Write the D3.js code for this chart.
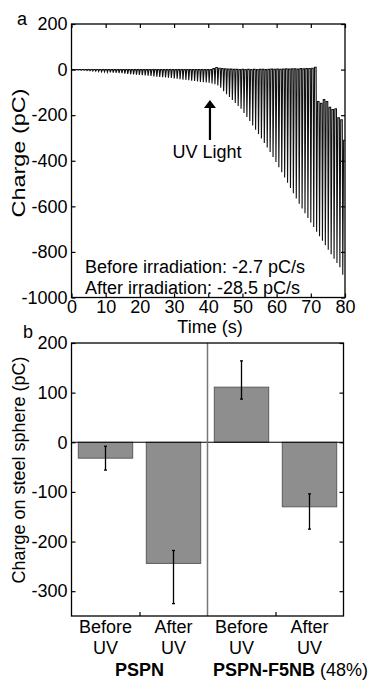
<!DOCTYPE html>
<html>
<head>
<meta charset="utf-8">
<script src="https://cdn.jsdelivr.net/npm/d3@7"></script>
<style>
    body { margin: 0; background: #ffffff; }
    svg { display: block; font-family: "Liberation Sans", Arial, sans-serif; }
    .tick line { stroke: #000000; }
</style>
</head>
<body>
<div class="chart"></div>
<script>
// 面板 a：每个脉冲周期的时间 (s)、顶部电荷和谷底电荷 (pC)
const cycleTime = [
    1.0, 1.85, 2.7, 3.55, 4.4, 5.25, 6.1, 6.95, 7.8, 8.65,
    9.5, 10.35, 11.2, 12.05, 12.9, 13.75, 14.6, 15.45, 16.3, 17.15,
    18.0, 18.85, 19.7, 20.55, 21.4, 22.25, 23.1, 23.95, 24.8, 25.65,
    26.5, 27.35, 28.2, 29.05, 29.9, 30.75, 31.6, 32.45, 33.3, 34.15,
    35.0, 35.85, 36.7, 37.55, 38.4, 39.25, 40.1, 40.95, 41.8, 42.65,
    43.5, 44.35, 45.2, 46.05, 46.9, 47.75, 48.6, 49.45, 50.3, 51.15,
    52.0, 52.85, 53.7, 54.55, 55.4, 56.25, 57.1, 57.95, 58.8, 59.65,
    60.5, 61.35, 62.2, 63.05, 63.9, 64.75, 65.6, 66.45, 67.3, 68.15,
    69.0, 69.85, 70.7, 71.55, 72.4, 73.25, 74.1, 74.95, 75.8, 76.65,
    77.5, 78.35, 79.2, 80.0
];
const cycleTop = [
    0, 0, 0, 0, 0, 0, 0, 0, 0, 0,
    0, 0, 0, 0, 0, 0, 0, 0, 0, 0,
    0, 0, 0, 0, 0, 0, 0, 0, 0, 0,
    0, 0, 0, 0, 0, 0, 0, 0, 0, 0,
    0, 0, 0, 0, 0, 0, 0, 0, 4, 9,
    6, 4, 3, 2, 2, 1, 1, 0, 1, 0,
    1, 0, 1, 0, 1, 1, 0, 1, 2, 1,
    2, 1, 2, 3, 2, 3, 3, 2, 4, 3,
    4, 5, 6, 10, -140, -148, -132, -140, -165, -175,
    -172, -212, -220, -310
];
const cycleTrough = [
    -1, -2, -3, -3, -4, -5, -6, -7, -8, -9,
    -10, -11, -12, -13, -14, -15, -16, -18, -19, -20,
    -21, -22, -23, -25, -26, -27, -28, -30, -31, -32,
    -33, -35, -36, -37, -39, -40, -42, -44, -45, -47,
    -49, -50, -52, -54, -55, -57, -58, -61, -64, -70,
    -80, -95, -108, -120, -133, -147, -160, -172, -190, -208,
    -226, -245, -264, -283, -302, -322, -342, -362, -384, -405,
    -428, -450, -474, -497, -520, -543, -566, -589, -610, -630,
    -651, -671, -691, -711, -731, -751, -771, -790, -810, -830,
    -849, -867, -900, null
];
const timeTicks = [0, 10, 20, 30, 40, 50, 60, 70, 80];
const chargeTicks = [-1000, -800, -600, -400, -200, 0, 200];
const uvOnTime = 40.5;

// 面板 b：柱状图
const barLabels = ['Before', 'After', 'Before', 'After'];
const barValues = [-32, -244, 111, -130];
const errLow = [-56, -325, 87, -175];
const errHigh = [-8, -218, 164, -104];
const sphereTicks = [-300, -200, -100, 0, 100, 200];

const width = 371, height = 680;
const fontSize = 18;
const plain = d => String(d);   // 普通连字符负号

const svg = d3.select('.chart')
    .append('svg')
    .attr('width', width)
    .attr('height', height);

// 四边向内刻度 + 边框
function drawFrame(g, x, y, xTicks, yTicks, showXLabels, showTop) {
    const [x0, x1] = x.range();
    const [y0, y1] = y.range();
    g.append('g')
        .attr('transform', `translate(0,${y0})`)
        .call(d3.axisBottom(x).tickValues(xTicks).tickSize(-4).tickPadding(3)
            .tickFormat(showXLabels ? plain : () => ''))
        .call(a => a.select('.domain').remove());
    if (showTop) {
        g.append('g')
            .attr('transform', `translate(0,${y1})`)
            .call(d3.axisTop(x).tickValues(xTicks).tickSize(-4).tickFormat(() => ''))
            .call(a => a.select('.domain').remove());
    }
    g.append('g')
        .attr('transform', `translate(${x0},0)`)
        .call(d3.axisLeft(y).tickValues(yTicks).tickSize(-4).tickPadding(4).tickFormat(plain))
        .call(a => a.select('.domain').remove());
    g.append('g')
        .attr('transform', `translate(${x1},0)`)
        .call(d3.axisRight(y).tickValues(yTicks).tickSize(-4).tickFormat(() => ''))
        .call(a => a.select('.domain').remove());
    g.selectAll('.tick text')
        .attr('fill', '#000')
        .style('font-size', `${fontSize}px`)
        .style('font-family', '"Liberation Sans", Arial, sans-serif');
    g.selectAll('.tick line').attr('stroke-width', 1.2);
    g.append('rect')
        .attr('x', x0).attr('y', y1)
        .attr('width', x1 - x0).attr('height', y0 - y1)
        .attr('fill', 'none')
        .attr('stroke', '#000')
        .attr('stroke-width', 1.3);
}

// ---------- 面板 a ----------
const ga = svg.append('g');
const xA = d3.scaleLinear().domain([0, 80]).range([71.5, 345]);
const yA = d3.scaleLinear().domain([-1000, 200]).range([297.5, 24]);

ga.append('clipPath').attr('id', 'clipA')
    .append('rect')
    .attr('x', xA(0)).attr('y', yA(200))
    .attr('width', xA(80) - xA(0)).attr('height', yA(-1000) - yA(200));

// 锯齿曲线：顶部 -> 谷底 -> 回到下一周期的顶部
const pts = [[0, 0]];
cycleTime.forEach((t, i) => {
    pts.push([t, cycleTop[i]]);
    if (cycleTrough[i] !== null) {
        pts.push([t + 0.15, cycleTrough[i]]);
        pts.push([t + 0.4, cycleTop[i + 1]]);
    }
});
const line = d3.line().x(d => xA(d[0])).y(d => yA(d[1]));
ga.append('path')
    .attr('clip-path', 'url(#clipA)')
    .attr('d', line(pts))
    .attr('fill', 'none')
    .attr('stroke', '#111')
    .attr('stroke-width', 1.1)
    .attr('stroke-linejoin', 'miter');

drawFrame(ga, xA, yA, timeTicks, chargeTicks, true, true);

// UV 箭头
const ax = xA(uvOnTime);
ga.append('line')
    .attr('x1', ax).attr('x2', ax)
    .attr('y1', 105).attr('y2', 140)
    .attr('stroke', '#000').attr('stroke-width', 2.2);
ga.append('path')
    .attr('d', `M${ax},100 L${ax - 6},108 L${ax + 6},108 Z`)
    .attr('fill', '#000');
ga.append('text')
    .attr('x', 207).attr('y', 158)
    .attr('text-anchor', 'middle')
    .style('font-size', `${fontSize}px`)
    .text('UV Light');

ga.append('text').attr('x', 85).attr('y', 273)
    .style('font-size', `${fontSize}px`)
    .text('Before irradiation: -2.7 pC/s');
ga.append('text').attr('x', 85).attr('y', 294)
    .style('font-size', `${fontSize}px`)
    .text('After irradiation: -28.5 pC/s');

ga.append('text').attr('x', 210).attr('y', 333)
    .attr('text-anchor', 'middle')
    .style('font-size', `${fontSize}px`)
    .text('Time (s)');
ga.append('text')
    .attr('transform', 'translate(25,153) rotate(-90)')
    .attr('text-anchor', 'middle')
    .attr('textLength', 129)
    .attr('lengthAdjust', 'spacingAndGlyphs')
    .style('font-size', `${fontSize}px`)
    .text('Charge (pC)');
ga.append('text').attr('x', 17).attr('y', 25)
    .style('font-size', `${fontSize}px`)
    .text('a');

// ---------- 面板 b ----------
const gb = svg.append('g');
const xB = d3.scaleBand().domain(d3.range(barValues.length))
    .range([71.5, 343.5]).paddingInner(0.2).paddingOuter(0.1);
const yB = d3.scaleLinear().domain([-350, 200]).range([616, 343]);

gb.selectAll('rect.bar')
    .data(barValues)
    .join('rect')
    .attr('class', 'bar')
    .attr('x', (d, i) => xB(i))
    .attr('width', xB.bandwidth())
    .attr('y', d => yB(Math.max(0, d)))
    .attr('height', d => Math.abs(yB(d) - yB(0)))
    .attr('fill', '#8e8e8e')
    .attr('stroke', '#5a5a5a')
    .attr('stroke-width', 1);

// 零线
gb.append('line')
    .attr('x1', xB.range()[0]).attr('x2', xB.range()[1])
    .attr('y1', yB(0)).attr('y2', yB(0))
    .attr('stroke', '#000').attr('stroke-width', 1.2);

// 组分隔线
const midX = (xB(1) + xB.bandwidth() + xB(2)) / 2;
gb.append('line')
    .attr('x1', midX).attr('x2', midX)
    .attr('y1', yB(200)).attr('y2', yB(-350))
    .attr('stroke', '#777').attr('stroke-width', 1.5);

// 误差棒
const eb = gb.selectAll('g.err')
    .data(barValues.map((v, i) => i))
    .join('g').attr('class', 'err');
eb.append('line')
    .attr('x1', i => xB(i) + xB.bandwidth() / 2)
    .attr('x2', i => xB(i) + xB.bandwidth() / 2)
    .attr('y1', i => yB(errLow[i])).attr('y2', i => yB(errHigh[i]))
    .attr('stroke', '#000').attr('stroke-width', 1.3);
[errLow, errHigh].forEach(arr => {
    eb.append('line')
        .attr('x1', i => xB(i) + xB.bandwidth() / 2 - 1.5)
        .attr('x2', i => xB(i) + xB.bandwidth() / 2 + 1.5)
        .attr('y1', i => yB(arr[i])).attr('y2', i => yB(arr[i]))
        .attr('stroke', '#000').attr('stroke-width', 1.3);
});

// 边框与刻度（x 方向刻度在组内柱子之间）
const groupTicks = [0, 2].map(i => (xB(i) + xB.bandwidth() + xB(i + 1)) / 2);
const xB2 = d3.scaleLinear().domain(xB.range()).range(xB.range());
drawFrame(gb, xB2, yB, groupTicks, sphereTicks, false, false);

// 类别标签
barLabels.forEach((lab, i) => {
    const cx = xB(i) + xB.bandwidth() / 2;
    gb.append('text').attr('x', cx).attr('y', 633)
        .attr('text-anchor', 'middle')
        .style('font-size', `${fontSize}px`)
        .text(lab);
    gb.append('text').attr('x', cx).attr('y', 654)
        .attr('text-anchor', 'middle')
        .style('font-size', `${fontSize}px`)
        .text('UV');
});
gb.append('text').attr('x', groupTicks[0]).attr('y', 676)
    .attr('text-anchor', 'middle')
    .style('font-size', `${fontSize}px`)
    .style('font-weight', 'bold')
    .text('PSPN');
const g2 = gb.append('text').attr('x', 213).attr('y', 676)
    .style('font-size', `${fontSize}px`);
g2.append('tspan').style('font-weight', 'bold').text('PSPN-F5NB');
g2.append('tspan').text(' (48%)');

gb.append('text')
    .attr('transform', 'translate(25,470) rotate(-90)')
    .attr('text-anchor', 'middle')
    .style('font-size', `${fontSize}px`)
    .text('Charge on steel sphere (pC)');
gb.append('text').attr('x', 23).attr('y', 338)
    .style('font-size', `${fontSize}px`)
    .text('b');
</script>
</body>
</html>
